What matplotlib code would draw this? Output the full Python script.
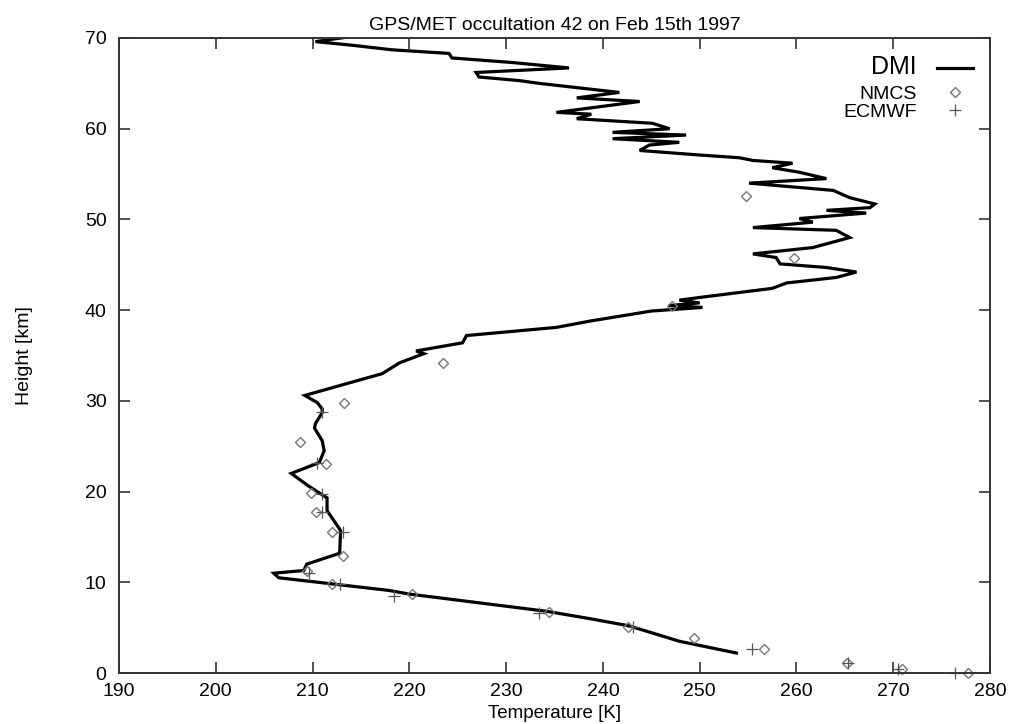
import numpy as np
import matplotlib
matplotlib.use('Agg')
import matplotlib.pyplot as plt

plt.rcParams['font.family'] = ['Liberation Sans', 'DejaVu Sans']

# DMI retrieved profile (top to bottom)
dmi_h = [70.1, 69.6, 69.2, 68.7, 68.3, 67.8, 67.3, 66.7, 66.2, 65.7, 65.3, 65.0,
         64.0, 63.4, 63.0, 62.4, 61.8, 61.6, 61.1, 60.6, 60.0, 59.6, 59.3, 58.9,
         58.5, 58.2, 57.6, 57.1, 56.8, 56.5, 56.2, 55.7, 55.2, 54.5, 54.0, 53.2,
         52.4, 51.7, 51.3, 51.0, 50.7, 50.1, 49.7, 49.1, 48.8, 48.0, 46.9, 46.2,
         45.8, 45.1, 44.7, 44.2, 43.6, 43.0, 42.4, 41.4, 41.1, 40.8, 40.5, 40.3,
         39.9, 38.8, 38.1, 37.2, 36.4, 35.5, 35.2, 35.0, 34.2, 33.0, 30.6, 29.8,
         29.1, 28.7, 27.5, 27.0, 25.6, 24.5, 23.2, 22.0, 20.6, 19.3, 17.9, 15.7,
         13.2, 12.0, 11.3, 11.0, 10.5, 9.1, 8.7, 6.8, 6.0, 5.2, 3.5, 2.2]
dmi_t = [213.6, 210.3, 214.1, 218.2, 224.1, 224.4, 230.6, 236.5, 226.9, 227.2, 231.4, 233.4,
         241.7, 237.3, 243.8, 239.5, 235.2, 238.8, 237.3, 245.1, 246.9, 241.0, 248.6, 241.0,
         247.9, 244.8, 243.8, 250.0, 254.1, 255.5, 259.6, 257.5, 260.3, 263.1, 255.1, 263.8,
         265.5, 268.1, 267.6, 263.1, 267.2, 260.3, 261.7, 255.5, 264.1, 265.5, 261.7, 255.5,
         257.9, 258.3, 263.1, 266.2, 264.1, 259.0, 257.5, 250.0, 247.9, 250.0, 246.8, 250.3,
         245.0, 238.7, 235.2, 225.9, 225.5, 220.7, 221.5, 221.0, 219.0, 217.2, 209.2, 210.5,
         211.0, 211.0, 210.3, 210.2, 211.0, 211.2, 210.7, 207.8, 209.6, 211.5, 211.5, 212.9,
         212.8, 209.4, 209.1, 206.0, 206.5, 217.9, 220.0, 234.2, 238.6, 242.7, 247.9, 253.8]

# NMCS analysis points
nmcs_t = [254.8, 259.7, 247.1, 223.5, 213.2, 208.7, 211.4, 209.8, 210.4, 212.0,
          213.1, 209.4, 212.0, 220.3, 234.4, 242.6, 249.4, 256.6, 265.2, 270.9, 277.7]
nmcs_h = [52.6, 45.7, 40.5, 34.2, 29.8, 25.5, 23.0, 19.8, 17.7, 15.5,
          12.9, 11.2, 9.8, 8.7, 6.7, 5.1, 3.9, 2.6, 1.1, 0.45, 0.05]

# ECMWF analysis points
ecmwf_t = [211.0, 210.5, 211.0, 211.0, 213.1, 209.6, 212.8, 218.4, 233.4,
           243.1, 255.4, 265.3, 270.5, 276.4]
ecmwf_h = [28.8, 23.1, 19.7, 17.7, 15.5, 11.0, 9.8, 8.5, 6.6,
           5.1, 2.6, 1.1, 0.4, 0.05]

fig = plt.figure(figsize=(10.11, 7.24), dpi=100)
ax = fig.add_axes([119/1011, 1 - 673/724, (990-119)/1011, (673-38)/724])

dmi, = ax.plot(dmi_t, dmi_h, color='black', lw=2.3, label='DMI', solid_joinstyle='miter')
nm, = ax.plot(nmcs_t, nmcs_h, linestyle='none', marker='D', markersize=5.5,
              mfc='none', mec='#777777', mew=1.0, label='NMCS', clip_on=False)
ec, = ax.plot(ecmwf_t, ecmwf_h, linestyle='none', marker='+', markersize=8,
              color='#555555', mew=0.9, label='ECMWF', clip_on=False)

ax.set_xlim(190, 280)
ax.set_ylim(0, 70)
ax.set_xticks(np.arange(190, 281, 10))
ax.set_yticks(np.arange(0, 71, 10))
ax.tick_params(direction='in', length=8, width=1.2, top=True, right=True,
               labelsize=14, color='#333333')
ax.tick_params(axis='x', pad=7)
ax.tick_params(axis='y', pad=9)
for s in ax.spines.values():
    s.set_color('#333333')
    s.set_linewidth(1.4)

ax.set_title('GPS/MET occultation 42 on Feb 15th 1997', fontsize=14, pad=6)
ax.set_xlabel('Temperature [K]', fontsize=13.5, labelpad=4)
ax.set_ylabel('Height [km]', fontsize=14, labelpad=37)

# gnuplot-style key: text right-aligned, sample on the right
leg_kw = dict(frameon=False, markerfirst=False, fontsize=14, handlelength=1.85,
              handletextpad=1.0, labelspacing=0.0, borderaxespad=0.5)
leg1 = ax.legend(handles=[dmi], loc='upper right', **leg_kw)
leg1.get_texts()[0].set_fontsize(18)
ax.add_artist(leg1)
ax.legend(handles=[nm, ec], loc='upper right',
          bbox_to_anchor=(1.0, 1 - 30/635), **leg_kw)

fig.savefig('out.png', dpi=100)
